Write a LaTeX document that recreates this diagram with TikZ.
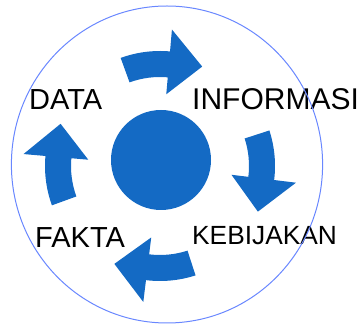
\documentclass[tikz,border=0pt]{standalone}
\usepackage{xcolor}
\usepackage{fontspec}
\setmainfont{Liberation Sans}
\usepackage{tikz}
\usetikzlibrary{positioning}

\definecolor{ringblue}{RGB}{105,135,255}
\definecolor{cycleblue}{RGB}{20,106,196}

\begin{document}
\begin{tikzpicture}[x=1pt, y=1pt,
				hubnode/.style={circle, fill=cycleblue, minimum size=100pt, inner sep=0pt},
				labelnode/.style={anchor=base west, inner sep=0pt, font=\fontsize{29}{29}\selectfont},
				biglabel/.style={labelnode, font=\fontsize{30}{30}\selectfont},
				smalllabel/.style={labelnode, font=\fontsize{26.3}{26.3}\selectfont},
				bluearrow/.style={fill=cycleblue},
				]
				\useasboundingbox (0,0) rectangle (359,326);
				%Nodes
				\node[hubnode](hub) at (161,166){};
				\node[labelnode](data) at (29,216){DATA};
				\node[biglabel](informasi) at (192,216){INFORMASI};
				\node[smalllabel](kebijakan) at (192,81){KEBIJAKAN};
				\node[labelnode](fakta) at (35,78){FAKTA};
				
				%Arrows
				\begin{scope}[shift={(160,160)}]
				\foreach \a in {110,18,-72,200}{
					\fill[bluearrow] (\a:115) arc[start angle=\a, end angle={\a-25}, radius=115]
						-- ({\a-25}:137) -- ({\a-43}:108) -- ({\a-25}:72) -- ({\a-25}:89)
						arc[start angle={\a-25}, end angle=\a, radius=89] -- cycle;
				}
				\end{scope}
				
				%Ring
				\draw[ringblue, line width=1pt] (167,161.5) ellipse [x radius=155.6, y radius=158.5];
				
			\end{tikzpicture}
\end{document}
